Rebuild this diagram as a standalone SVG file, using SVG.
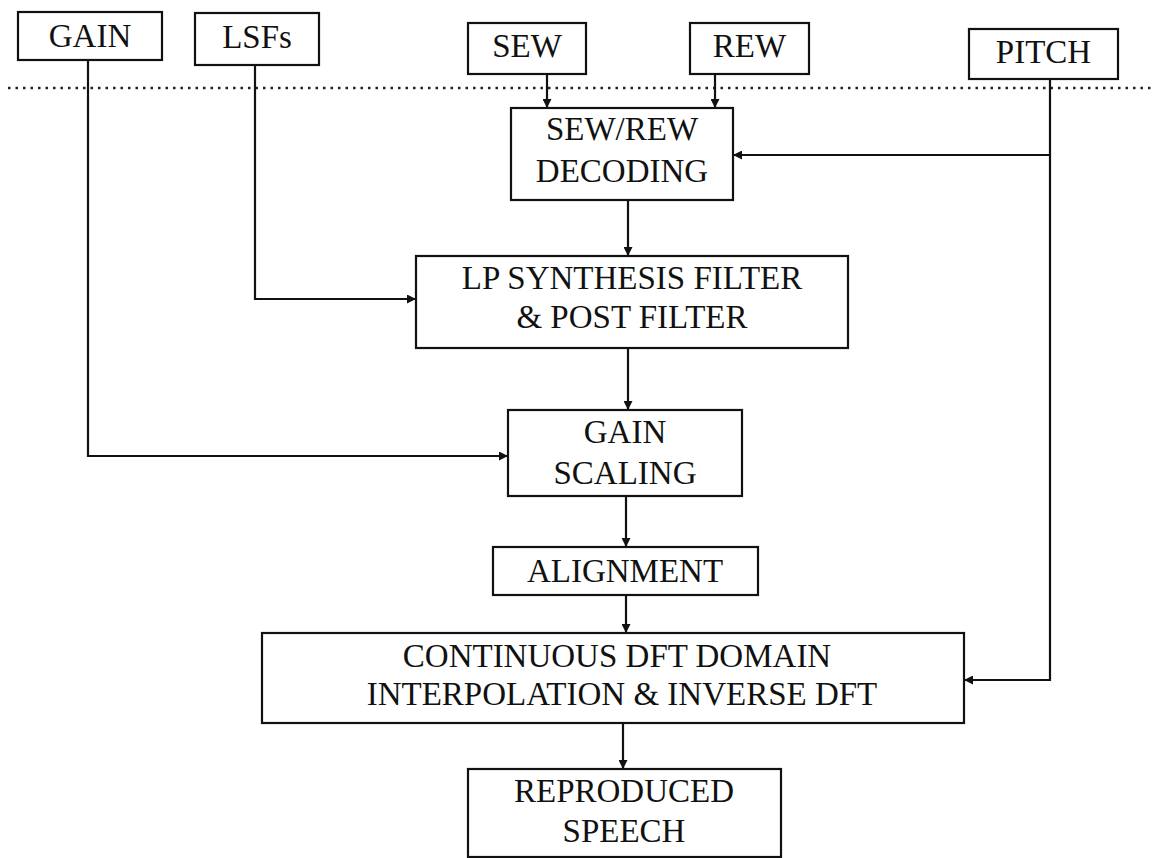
<svg xmlns="http://www.w3.org/2000/svg" width="1155" height="858" viewBox="0 0 1155 858">
<style>
.box{fill:#fff;stroke:#111;stroke-width:2.2}
.t{font-family:"Liberation Serif","Times New Roman",serif;font-size:33px;fill:#111;text-anchor:middle}
.c{fill:none;stroke:#111;stroke-width:2.2}
.dot{fill:none;stroke:#222;stroke-width:2.5;stroke-dasharray:2.5 5}
</style>
<defs>
<marker id="ah" viewBox="0 0 10 10" refX="10" refY="5" markerWidth="10" markerHeight="9" markerUnits="userSpaceOnUse" orient="auto">
<path d="M0,0 L10,5 L0,10 z" fill="#111"/>
</marker>
</defs>
<rect width="1155" height="858" fill="#fff"/>
<line class="dot" x1="8" y1="88" x2="1155" y2="88"/>
<g id="connectors">
<path class="c" d="M547,74 V108" marker-end="url(#ah)"/>
<path class="c" d="M715,74 V108" marker-end="url(#ah)"/>
<path class="c" d="M1050,79 V680 H964" marker-end="url(#ah)"/>
<path class="c" d="M1050,155 H733" marker-end="url(#ah)"/>
<path class="c" d="M88,60 V456 H508" marker-end="url(#ah)"/>
<path class="c" d="M255,65 V299 H416" marker-end="url(#ah)"/>
<path class="c" d="M628,200 V256" marker-end="url(#ah)"/>
<path class="c" d="M628,348 V410" marker-end="url(#ah)"/>
<path class="c" d="M626,496 V547" marker-end="url(#ah)"/>
<path class="c" d="M626,595 V633" marker-end="url(#ah)"/>
<path class="c" d="M623,723 V769" marker-end="url(#ah)"/>
</g>
<g id="gain_in"><rect class="box" x="18" y="12" width="144" height="48"/><text class="t" x="90" y="47">GAIN</text></g>
<g id="lsfs"><rect class="box" x="195" y="13" width="124" height="52"/><text class="t" x="257" y="48">LSFs</text></g>
<g id="sew"><rect class="box" x="468" y="23" width="118" height="51"/><text class="t" x="527" y="57">SEW</text></g>
<g id="rew"><rect class="box" x="690" y="23" width="119" height="51"/><text class="t" x="749.5" y="57">REW</text></g>
<g id="pitch"><rect class="box" x="969" y="29" width="149" height="50"/><text class="t" x="1043.5" y="63">PITCH</text></g>
<g id="decoding"><rect class="box" x="511" y="108" width="222" height="92"/><text class="t" x="622" y="140">SEW/REW</text><text class="t" x="622" y="182">DECODING</text></g>
<g id="lp"><rect class="box" x="416" y="256" width="432" height="92"/><text class="t" x="632" y="289">LP SYNTHESIS FILTER</text><text class="t" x="632" y="328">&amp; POST FILTER</text></g>
<g id="gainscaling"><rect class="box" x="508" y="410" width="234" height="86"/><text class="t" x="625" y="443">GAIN</text><text class="t" x="625" y="484">SCALING</text></g>
<g id="alignment"><rect class="box" x="493" y="547" width="265" height="48"/><text class="t" x="625" y="582">ALIGNMENT</text></g>
<g id="continuous"><rect class="box" x="262" y="633" width="702" height="90"/><text class="t" x="617" y="667">CONTINUOUS DFT DOMAIN</text><text class="t" x="622" y="705">INTERPOLATION &amp; INVERSE DFT</text></g>
<g id="reproduced"><rect class="box" x="468" y="769" width="313" height="88"/><text class="t" x="624" y="802">REPRODUCED</text><text class="t" x="624" y="842">SPEECH</text></g>
</svg>
